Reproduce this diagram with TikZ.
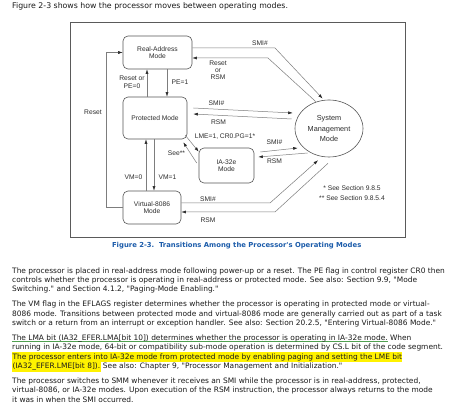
\documentclass[tikz,border=0pt]{standalone}
\usepackage{fontspec}
\setmainfont{Liberation Sans}
\newfontfamily\bodyfont{DejaVu Sans}
\usetikzlibrary{arrows.meta,shapes.geometric}
\definecolor{linegray}{RGB}{125,125,125}
\definecolor{boxgray}{RGB}{85,85,85}
\definecolor{framegray}{RGB}{90,90,90}
\definecolor{labelgray}{RGB}{45,45,45}
\definecolor{bodytext}{RGB}{25,25,25}
\definecolor{capblue}{RGB}{28,92,170}
\definecolor{hlyellow}{RGB}{255,242,0}
\definecolor{ulgreen}{RGB}{80,160,80}
\newsavebox\ulbox
\newcommand\gul[1]{\sbox\ulbox{#1}\rlap{\textcolor{ulgreen}{\rule[-1.8pt]{\wd\ulbox}{0.9pt}}}\usebox\ulbox}
\newcommand\hlite[1]{{\setlength{\fboxsep}{0.4pt}\colorbox{hlyellow}{\strut #1}}}
\begin{document}
\begin{tikzpicture}[x=1pt,y=-1pt,
  modebox/.style={draw=boxgray, line width=0.6pt, rounded corners=5pt, inner sep=0pt,
    align=center, text=labelgray, font=\fontsize{6.7}{7.4}\selectfont},
  lbl/.style={inner sep=0pt, align=center, text=labelgray, font=\fontsize{6.7}{7.3}\selectfont},
  conn/.style={draw=linegray, line width=0.5pt, -{Latex[length=4.5pt,width=3pt,color=black!85]}},
  body/.style={anchor=base west, inner sep=0pt, text=bodytext, font=\bodyfont\fontsize{7.45}{9.3}\selectfont}]
\useasboundingbox (0,0) rectangle (474,411);
\fill[white] (0,0) rectangle (474,411);

% top sentence
\node[body, font=\bodyfont\fontsize{7.8}{9.3}\selectfont] (intro) at (12,8.8) {Figure 2-3 shows how the processor moves between operating modes.};

% frame
\draw[framegray, line width=0.8pt] (70,22) rectangle (405,237);

% modes
\node[modebox, minimum width=69pt, minimum height=33pt] (RA) at (157.5,52.5) {Real-Address\\Mode};
\node[modebox, minimum width=64pt, minimum height=42pt] (PM) at (155,118) {Protected Mode};
\node[modebox, minimum width=55pt, minimum height=35pt] (IA) at (226.5,165.5) {IA-32e\\Mode};
\node[modebox, minimum width=58pt, minimum height=33pt] (V86) at (152,207.5) {Virtual-8086\\Mode};
\node[ellipse, draw=boxgray, line width=0.6pt, inner sep=0pt, minimum width=68pt, minimum height=57pt,
  align=center, text=labelgray, font=\fontsize{7.3}{10.5}\selectfont] (SMM) at (329,128.5) {System\\Management\\Mode};

% connectors
\draw[conn, shorten >=2pt] ([yshift=4.5pt]RA.east) -- (275,48) -- (SMM.100);
\draw[conn] (SMM.116) -- (268,58) -- ([yshift=-5.5pt]RA.east);
\draw[conn] ([xshift=-8pt]PM.north) -- ([xshift=-8pt]PM.north |- RA.south);
\draw[conn] ([xshift=9.5pt]RA.south) -- ([xshift=9.5pt]RA.south |- PM.north);
\draw[conn] ([xshift=6pt,yshift=10pt]PM.east) -- ([xshift=-2pt,yshift=15.5pt]SMM.west);
\draw[conn] ([xshift=-3pt,yshift=9.5pt]SMM.west) -- ([xshift=6pt,yshift=4pt]PM.east);
\draw[conn] ([xshift=-2pt,yshift=4pt]PM.south east) -- ([yshift=-4pt]IA.north west);
\draw[conn] ([xshift=-2pt,yshift=2.5pt]IA.west) -- ([xshift=-4pt,yshift=-3pt]PM.south east);
\draw[conn] ([xshift=6pt,yshift=13.5pt]IA.east) -- ([xshift=3pt,yshift=-19.5pt]SMM.west);
\draw[conn] ([xshift=13pt,yshift=-24.5pt]SMM.west) -- ([xshift=4pt,yshift=8.5pt]IA.east);
\draw[conn] ([xshift=-6pt]V86.north) -- ([xshift=-6pt]V86.north |- PM.south);
\draw[conn] ([xshift=2pt]V86.north |- PM.south) -- ([xshift=2pt]V86.north);
\draw[conn] ([yshift=4.5pt]V86.east) -- (270,203) -- ([xshift=-11pt,yshift=-3pt]SMM.south);
\draw[conn] ([xshift=-1pt,yshift=-6pt]SMM.south) -- (275,212) -- ([yshift=-4.5pt]V86.east);
\draw[conn] (V86.west) -- ++(-16,0) |- (RA.west);

% connector labels
\node[lbl] (lsmiRA) at (260,43) {SMI\#};
\node[lbl, font=\fontsize{6.7}{7}\selectfont] (lrstRA) at (218,70) {Reset\\or\\RSM};
\node[lbl, font=\fontsize{6.7}{7.7}\selectfont] (lpe0) at (132,82) {Reset or\\PE=0};
\node[lbl] (lpe1) at (180,82) {PE=1};
\node[lbl] (lsmiPM) at (216.5,102.7) {SMI\#};
\node[lbl] (lrsmPM) at (218.5,121.7) {RSM};
\node[lbl] (llme) at (225,137) {LME=1, CR0.PG=1*};
\node[lbl] (lsee) at (176.5,153) {See**};
\node[lbl] (lsmiIA) at (274.5,141.7) {SMI\#};
\node[lbl] (lrsmIA) at (274.5,160.7) {RSM};
\node[lbl] (lvm0) at (133.5,177) {VM=0};
\node[lbl] (lvm1) at (167.5,177) {VM=1};
\node[lbl] (lsmiV) at (208,199) {SMI\#};
\node[lbl] (lrsmV) at (208,220) {RSM};
\node[lbl] (lreset) at (93,112) {Reset};
\node[lbl] (foot1) at (352,188) {* See Section 9.8.5};
\node[lbl] (foot2) at (352,198) {** See Section 9.8.5.4};

% caption
\node[inner sep=0pt, anchor=base, text=capblue, font=\bodyfont\bfseries\fontsize{6.85}{8}\selectfont] (cap) at (236.7,247.8)
  {Figure 2-3.\ \ Transitions Among the Processor's Operating Modes};

% body text
\node[body] (p1a) at (12,273.4) {The processor is placed in real-address mode following power-up or a reset. The PE flag in control register CR0 then};
\node[body] (p1b) at (12,282.7) {controls whether the processor is operating in real-address or protected mode. See also: Section 9.9, "Mode};
\node[body] (p1c) at (12,292.0) {Switching." and Section 4.1.2, "Paging-Mode Enabling."};
\node[body] (p2a) at (12,307.0) {The VM flag in the EFLAGS register determines whether the processor is operating in protected mode or virtual-};
\node[body] (p2b) at (12,316.3) {8086 mode. Transitions between protected mode and virtual-8086 mode are generally carried out as part of a task};
\node[body] (p2c) at (12,325.6) {switch or a return from an interrupt or exception handler. See also: Section 20.2.5, "Entering Virtual-8086 Mode."};
\node[body] (p3a) at (12,340.6) {\gul{The LMA bit (IA32\_EFER.LMA[bit 10]) determines whether the processor is operating in IA-32e mode.} When};
\node[body] (p3b) at (12,349.9) {running in IA-32e mode, 64-bit or compatibility sub-mode operation is determined by CS.L bit of the code segment.};
\node[body] (p3c) at (12,359.2) {\hlite{The processor enters into IA-32e mode from protected mode by enabling paging and setting the LME bit}};
\node[body] (p3d) at (12,368.5) {\hlite{(IA32\_EFER.LME[bit 8]).} See also: Chapter 9, "Processor Management and Initialization."};
\node[body] (p4a) at (12,383.5) {The processor switches to SMM whenever it receives an SMI while the processor is in real-address, protected,};
\node[body] (p4b) at (12,392.8) {virtual-8086, or IA-32e modes. Upon execution of the RSM instruction, the processor always returns to the mode};
\node[body] (p4c) at (12,402.1) {it was in when the SMI occurred.};
\end{tikzpicture}
\end{document}
